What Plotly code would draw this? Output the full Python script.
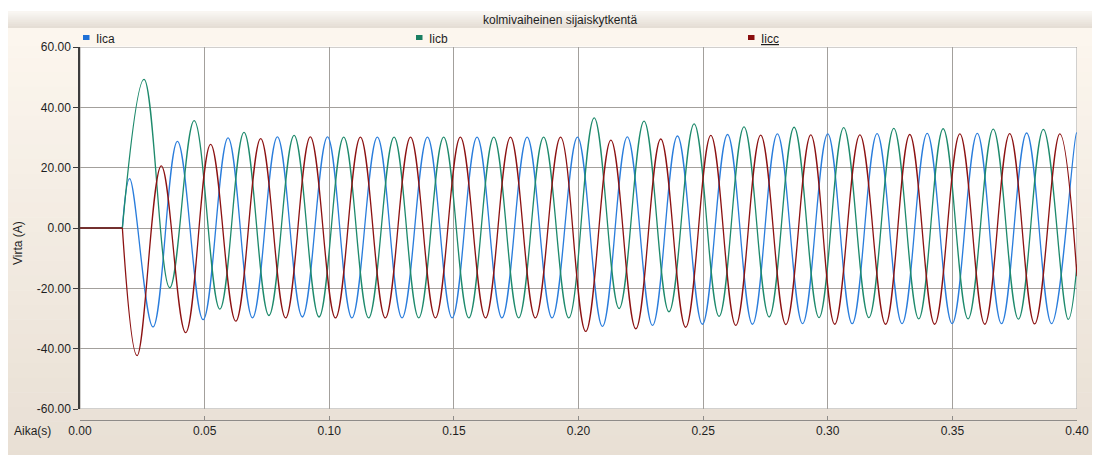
import plotly.graph_objects as go

# ---------------- data ----------------
chart_title = "kolmivaiheinen sijaiskytkentä"
x_label = "Aika(s)"
y_label = "Virta (A)"
series_names = ["Iica", "Iicb", "Iicc"]

x_ticks = [0.00, 0.05, 0.10, 0.15, 0.20, 0.25, 0.30, 0.35, 0.40]
y_ticks = [-60, -40, -20, 0, 20, 40, 60]

t_fault = 0.017          # switching instant (s)
pre_fault_current = 0.0  # current before switching (A)

# extrema (time s, current A), per phase
iica_t = [0.0199, 0.0293, 0.0391, 0.0494, 0.0594, 0.0692, 0.0792, 0.0892, 0.0993,
          0.1091, 0.1193, 0.1292, 0.1394, 0.1493, 0.1593, 0.1693, 0.1794, 0.1894,
          0.1996, 0.2096, 0.2196, 0.2297, 0.2397, 0.2497, 0.2598, 0.2698, 0.2798,
          0.2899, 0.3000, 0.3098, 0.3198, 0.3298, 0.3399, 0.3499, 0.3600, 0.3697,
          0.3798, 0.3898, 0.3998, 0.4000]
iica_v = [16.4, -32.8, 28.7, -30.4, 29.9, -29.8, 30.2, -29.5, 30.2,
          -29.8, 30.1, -29.8, 30.1, -29.8, 30.1, -29.8, 30.1, -29.8,
          30.1, -32.6, 30.2, -32.3, 30.5, -31.9, 31.0, -31.9, 31.2,
          -31.7, 31.2, -31.7, 31.3, -31.7, 31.4, -31.7, 31.4, -31.7,
          31.5, -31.7, 31.5, 31.4]

iicb_t = [0.0257, 0.0360, 0.0458, 0.0561, 0.0658, 0.0758, 0.0859, 0.0959,
          0.1058, 0.1158, 0.1260, 0.1359, 0.1459, 0.1560, 0.1660, 0.1760, 0.1860,
          0.1961, 0.2063, 0.2163, 0.2263, 0.2363, 0.2464, 0.2564, 0.2664, 0.2765,
          0.2865, 0.2965, 0.3064, 0.3165, 0.3265, 0.3365, 0.3463, 0.3563, 0.3664,
          0.3765, 0.3865, 0.3965, 0.4000]
iicb_v = [49.3, -19.8, 35.6, -26.9, 31.7, -29.0, 30.7, -29.5,
          30.1, -29.8, 30.1, -29.8, 30.1, -29.8, 30.1, -29.8, 30.1,
          -29.8, 36.5, -26.7, 35.4, -27.8, 34.5, -29.3, 33.5, -29.5,
          33.4, -29.7, 33.3, -29.7, 33.0, -30.1, 32.9, -30.1, 32.8,
          -30.2, 32.7, -30.3, -12.0]

iicc_t = [0.0229, 0.0326, 0.0424, 0.0524, 0.0625, 0.0725, 0.0825, 0.0924,
          0.1025, 0.1125, 0.1225, 0.1326, 0.1426, 0.1526, 0.1627, 0.1727, 0.1827,
          0.1928, 0.2029, 0.2130, 0.2230, 0.2330, 0.2430, 0.2531, 0.2631, 0.2731,
          0.2832, 0.2932, 0.3028, 0.3129, 0.3232, 0.3329, 0.3429, 0.3530, 0.3630,
          0.3730, 0.3830, 0.3931, 0.4000]
iicc_v = [-42.3, 20.6, -34.7, 27.7, -30.9, 29.6, -29.8, 30.2,
          -29.8, 30.1, -29.8, 30.1, -29.8, 30.1, -29.8, 30.1, -29.8,
          30.1, -34.3, 29.1, -33.4, 29.5, -32.9, 30.7, -32.3, 30.8,
          -32.0, 30.9, -31.9, 30.9, -31.9, 31.0, -31.9, 31.2, -31.9,
          31.3, -31.8, 31.2, -16.0]

# ---------------- style ----------------
line_colors = ["#2a7ddc", "#1e8a6c", "#8c1212"]
swatch_colors = ["#1f70d6", "#1a7f62", "#8a0e0e"]
FONT = "Liberation Sans, Arial, sans-serif"
TXT = "#1e1e1e"
GRID = "#a3a09c"

OFF = 8                      # page offset of the figure (body margin)
W, H = 1100, 455             # figure size
# layout in page pixels
P_LEFT, P_RIGHT, P_TOP, P_AXIS = 80, 1077, 47, 420
PLOT_BOTTOM = 409
L = P_LEFT - OFF
R = W - (P_RIGHT - OFF)
T = P_TOP - OFF
B = H - (P_AXIS - OFF)
PW, PH = W - L - R, H - T - B


def px(x):
    return (x - OFF - L) / PW


def py(y):
    return (P_AXIS - y) / PH


def lerp(c1, c2, f):
    return "rgb(%d,%d,%d)" % tuple(round(a + (b - a) * f) for a, b in zip(c1, c2))


shapes = []
# title bar gradient
n = 8
for i in range(n):
    y0 = 11 + (28 - 11) * i / n
    y1 = 11 + (28 - 11) * (i + 1) / n + 0.5
    shapes.append(dict(type="rect", xref="paper", yref="paper", x0=px(8), x1=px(1110),
                       y0=py(y1), y1=py(y0), line=dict(width=0),
                       fillcolor=lerp((249, 246, 242), (229, 222, 213), i / (n - 1)),
                       layer="below"))
# body gradient
n = 30
for i in range(n):
    y0 = 28 + (465 - 28) * i / n
    y1 = 28 + (465 - 28) * (i + 1) / n + 0.5
    shapes.append(dict(type="rect", xref="paper", yref="paper", x0=px(8), x1=px(1110),
                       y0=py(y1), y1=py(y0), line=dict(width=0),
                       fillcolor=lerp((252, 246, 238), (232, 223, 212), i / (n - 1)),
                       layer="below"))
# legend strip
shapes.append(dict(type="rect", xref="paper", yref="paper", x0=px(8), x1=px(1110),
                   y0=py(46.5), y1=py(28), line=dict(width=0), fillcolor="#fcf6ee",
                   layer="below"))
# white plot area
shapes.append(dict(type="rect", xref="paper", yref="paper", x0=px(80), x1=px(1077),
                   y0=py(PLOT_BOTTOM), y1=py(46.5), line=dict(width=0), fillcolor="white",
                   layer="below"))
# grid frame at the outer ticks (plotly omits edge gridlines)
shapes.append(dict(type="rect", xref="x", yref="y", x0=x_ticks[0], x1=x_ticks[-1],
                   y0=y_ticks[0], y1=y_ticks[-1], line=dict(color=GRID, width=1),
                   fillcolor="rgba(0,0,0,0)", layer="below"))

# legend (swatch + name)
legend_x = [83, 416, 748]
annotations = []
for k, (name, sc, lx) in enumerate(zip(series_names, swatch_colors, legend_x)):
    shapes.append(dict(type="rect", xref="paper", yref="paper", x0=px(lx), x1=px(lx + 6.5),
                       y0=py(40), y1=py(35), line=dict(width=0), fillcolor=sc))
    label = "<u>%s</u>" % name if k == 2 else name
    annotations.append(dict(xref="paper", yref="paper", x=px(lx + 11), y=py(38.5),
                            xanchor="left", yanchor="middle", showarrow=False, text=label,
                            font=dict(family=FONT, size=12, color=TXT)))

annotations += [
    dict(xref="paper", yref="paper", x=px(560), y=py(20), xanchor="center", yanchor="middle",
         showarrow=False, text=chart_title, font=dict(family=FONT, size=12, color=TXT)),
    dict(xref="paper", yref="paper", x=px(18), y=py(243), xanchor="center", yanchor="middle",
         showarrow=False, text=y_label, textangle=-90, font=dict(family=FONT, size=12, color=TXT)),
    dict(xref="paper", yref="paper", x=px(12), y=py(431), xanchor="left", yanchor="middle",
         showarrow=False, text=x_label, font=dict(family=FONT, size=12, color=TXT)),
]

fig = go.Figure()
for name, ts, vs, col in zip(series_names, [iica_t, iicb_t, iicc_t],
                             [iica_v, iicb_v, iicc_v], line_colors):
    xs = [0.0, t_fault, None, t_fault] + ts
    ys = [pre_fault_current, pre_fault_current, None, pre_fault_current] + vs
    fig.add_trace(go.Scatter(x=xs, y=ys, mode="lines", name=name, showlegend=False,
                             connectgaps=False, hoverinfo="skip",
                             line=dict(color=col, width=1.3, shape="spline", smoothing=1.1)))

fig.update_layout(
    width=W, height=H, autosize=False,
    margin=dict(l=L, r=R, t=T, b=B, pad=0),
    paper_bgcolor="white", plot_bgcolor="rgba(0,0,0,0)",
    showlegend=False,
    shapes=shapes, annotations=annotations,
    xaxis=dict(range=[0, 0.4], tickvals=x_ticks, ticktext=["%.2f" % v for v in x_ticks],
               showgrid=True, gridcolor=GRID, gridwidth=1, zeroline=False,
               showline=True, linecolor="#8e8b88", linewidth=1,
               ticks="inside", ticklen=4, tickcolor="#8e8b88",
               anchor="free", position=0, automargin=False,
               tickfont=dict(family=FONT, size=12, color=TXT)),
    yaxis=dict(range=[-60, 60], domain=[py(PLOT_BOTTOM), 1], tickvals=y_ticks,
               ticktext=["%.2f" % v for v in y_ticks], automargin=False,
               showgrid=True, gridcolor=GRID, gridwidth=1, zeroline=False,
               showline=True, linecolor="#3c3c3c", linewidth=1.5,
               ticks="outside", ticklen=5, tickcolor="#3c3c3c",
               tickfont=dict(family=FONT, size=12, color=TXT)),
)

fig.write_html("out.html")
